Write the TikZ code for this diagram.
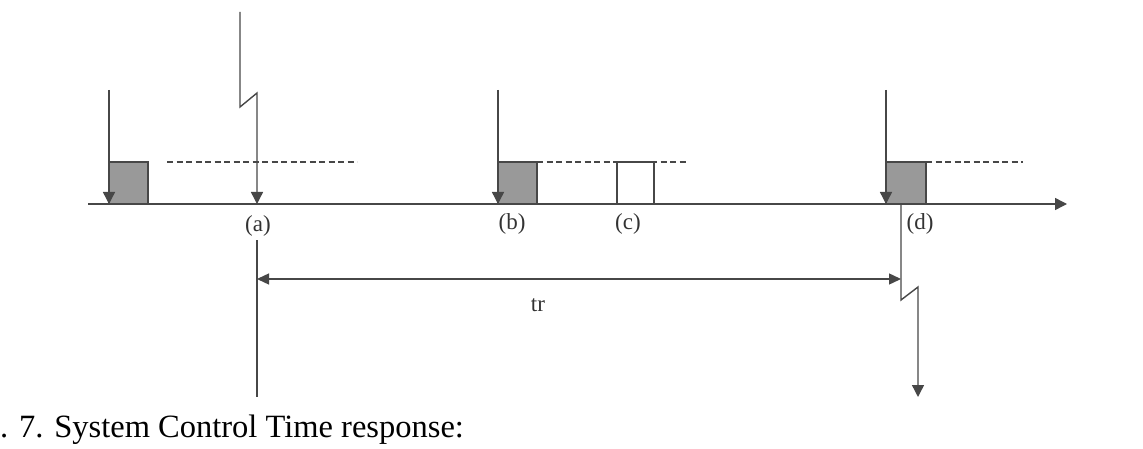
\documentclass[tikz,border=0pt]{standalone}
\usepackage{fontspec}
\setmainfont{Liberation Serif}
\usetikzlibrary{arrows.meta}
\begin{document}
\begin{tikzpicture}[x=1pt,y=-1pt,
  ln/.style={draw=black!72, line width=1.4pt},
  arr/.style={-{Triangle[length=12pt,width=12pt]}},
  dblarr/.style={{Triangle[length=12pt,width=11pt]}-{Triangle[length=12pt,width=11pt]}},
  graybox/.style={ln, fill=black!40},
  dashln/.style={ln, dash pattern=on 6pt off 3.5pt},
  lbl/.style={font=\fontsize{23}{26}\selectfont, inner sep=0pt, text=black!80},
  captxt/.style={font=\fontsize{32.5}{38}\selectfont, inner sep=0pt, anchor=base west}]
\useasboundingbox (0,0) rectangle (1143,449);
% axis
\coordinate (ax0) at (88,204);
\coordinate (ax1) at (1067,204);
% pulse 1
\draw[graybox] (109,162) rectangle (148,204);
\coordinate (p1t) at (109,90);
\coordinate (p1b) at (109,204);
\draw[ln,arr] (p1t) -- (p1b);
\draw[dashln] (167,162) -- (357,162);
% event (a)
\coordinate (at) at (240,12);
\coordinate (ab) at (257,204);
\draw[ln,arr] (at) -- (240,107) -- (257,93) -- (ab);
\node[lbl] (la) at (258,226) {(a)};
\coordinate (aline1) at (257,240);
\coordinate (aline2) at (257,397);
\draw[ln] (aline1) -- (aline2);
% pulse (b)
\draw[graybox] (498,162) rectangle (537,204);
\coordinate (pbt) at (498,90);
\coordinate (pbb) at (498,204);
\draw[ln,arr] (pbt) -- (pbb);
\draw[dashln] (537,162) -- (687,162);
\node[lbl] (lb) at (512,224) {(b)};
% pulse (c)
\draw[ln] (617,204) -- (617,162) -- (654,162) -- (654,204);
\node[lbl] (lc) at (628,224) {(c)};
% pulse (d)
\draw[graybox] (886,162) rectangle (926,204);
\coordinate (pdt) at (886,90);
\coordinate (pdb) at (886,204);
\draw[ln,arr] (pdt) -- (pdb);
\draw[dashln] (926,162) -- (1023,162);
\node[lbl] (ld) at (920,224) {(d)};
\coordinate (dt) at (901,204);
\coordinate (db) at (918,397);
\draw[ln,arr] (dt) -- (901,300) -- (918,287) -- (db);
% axis on top
\draw[ln,arr] (ax0) -- (ax1);
% tr
\coordinate (tra) at (257,279);
\coordinate (trb) at (901,279);
\draw[ln,dblarr] (tra) -- (trb);
\node[lbl] (ltr) at (538,305) {tr};
% caption
\node[captxt] (caption) at (0,437) {. 7. System Control Time response:};
\end{tikzpicture}
\end{document}
